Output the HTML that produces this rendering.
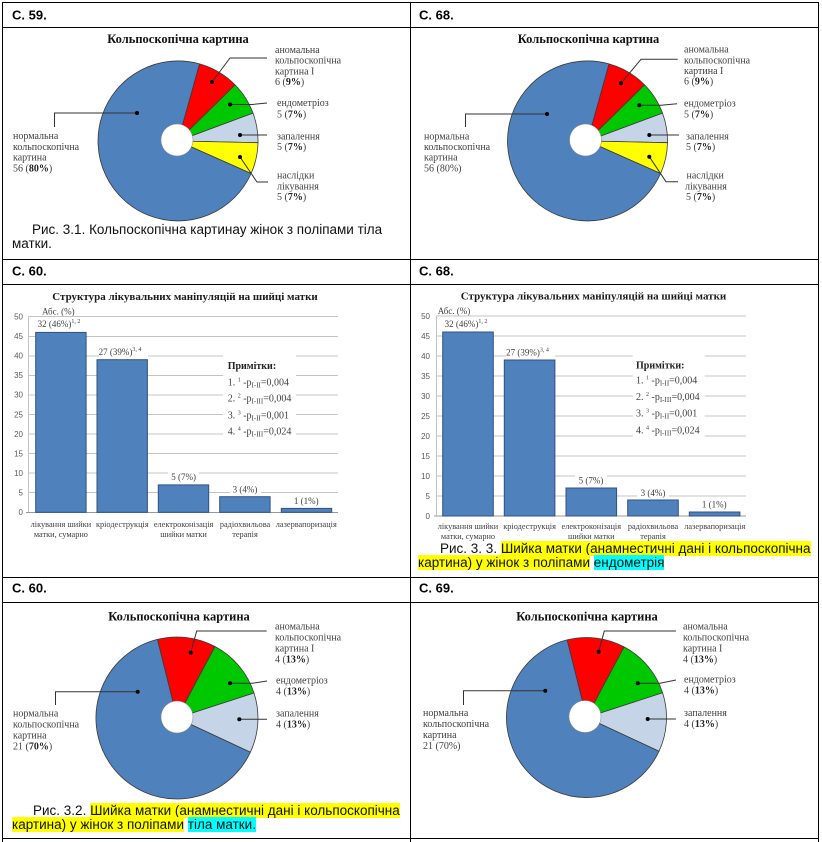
<!DOCTYPE html>
<html><head><meta charset="utf-8">
<style>
html,body{margin:0;padding:0;background:#fff;}
body{width:822px;height:842px;position:relative;overflow:hidden;}
svg{position:absolute;left:0;top:0;}
.cap{position:absolute;font-family:"Liberation Sans",Arial,sans-serif;font-size:13.5px;line-height:14px;color:#111;white-space:nowrap;}
.y{background:#ffff00;}
.c{background:#00ffff;}
.hd{font-family:"Liberation Sans",Arial,sans-serif;font-weight:bold;font-size:13px;fill:#000;}
.t{font-family:"Liberation Serif","Times New Roman",serif;}
.pl{font-family:"Liberation Serif","Times New Roman",serif;font-size:10px;fill:#404040;}
.bl{font-family:"Liberation Serif","Times New Roman",serif;font-size:9px;fill:#404040;}
.cl{font-family:"Liberation Serif","Times New Roman",serif;font-size:8.3px;fill:#404040;}
.tk{font-family:"Liberation Sans",Arial,sans-serif;font-size:8px;fill:#595959;}
</style></head><body>
<svg width="822" height="842" viewBox="0 0 822 842" xmlns="http://www.w3.org/2000/svg">
<!-- table grid -->
<g fill="#000" shape-rendering="crispEdges">
<rect x="2" y="2" width="817" height="1"/>
<rect x="2" y="27" width="817" height="1"/>
<rect x="2" y="259" width="817" height="1"/>
<rect x="2" y="284" width="817" height="1"/>
<rect x="2" y="577" width="817" height="1"/>
<rect x="2" y="602" width="817" height="1"/>
<rect x="2" y="838" width="817" height="1"/>
<rect x="2" y="2" width="1" height="840"/>
<rect x="410" y="2" width="1" height="840"/>
<rect x="818" y="2" width="1" height="840"/>
</g>
<!-- headers -->
<text class="hd" x="12" y="19.5">С. 59.</text>
<text class="hd" x="419" y="19.5">С. 68.</text>
<text class="hd" x="12" y="275.5">С. 60.</text>
<text class="hd" x="419" y="275.5">С. 68.</text>
<text class="hd" x="12" y="592.5">С. 60.</text>
<text class="hd" x="419" y="592.5">С. 69.</text>

<!-- ===== Cell 1 pie ===== -->
<text class="t" x="178" y="43" text-anchor="middle" font-size="12.5" font-weight="bold" fill="#111">Кольпоскопічна картина</text>
<g transform="translate(178,141)" stroke="#3a3a3a" stroke-width="0.8" stroke-linejoin="round">
<path d="M0,0 L21.5,-77.1 A80,80 0 0 1 57.1,-56.1 Z" fill="#FF0000"/>
<path d="M0,0 L57.1,-56.1 A80,80 0 0 1 75,-27.9 Z" fill="#00C800"/>
<path d="M0,0 L75,-27.9 A80,80 0 0 1 80,1.7 Z" fill="#C6D4E8"/>
<path d="M0,0 L80,1.7 A80,80 0 0 1 73.1,32.5 Z" fill="#FFFF00"/>
<path d="M0,0 L73.1,32.5 A80,80 0 1 1 21.5,-77.1 Z" fill="#4F81BD"/>
<circle cx="-1" cy="-1" r="16" fill="#fff" stroke="#888" stroke-width="0.5"/>
</g>
<g fill="none" stroke="#333" stroke-width="1">
<polyline points="212,82 230,58 267,58"/>
<polyline points="230,104.5 252,104.5 267,103"/>
<polyline points="240,135 267,135"/>
<polyline points="240,157 257,182 268,182"/>
<polyline points="137,113 54.5,113 54.5,127"/>
</g>
<g fill="#000"><circle cx="212" cy="82" r="2"/><circle cx="230" cy="104.5" r="2"/><circle cx="240" cy="135" r="2"/><circle cx="240" cy="157" r="2"/><circle cx="137" cy="113" r="2"/></g>
<text class="pl" x="275" y="53">аномальна</text>
<text class="pl" x="275" y="63.7">кольпоскопічна</text>
<text class="pl" x="275" y="74.3">картина І</text>
<text class="pl" x="275" y="85">6 (<tspan font-weight="bold" fill="#222">9%</tspan>)</text>
<text class="pl" x="277" y="106">ендометріоз</text>
<text class="pl" x="277" y="117.3">5 (<tspan font-weight="bold" fill="#222">7%</tspan>)</text>
<text class="pl" x="277" y="139.3">запалення</text>
<text class="pl" x="277" y="150">5 (<tspan font-weight="bold" fill="#222">7%</tspan>)</text>
<text class="pl" x="277" y="178.3">наслідки</text>
<text class="pl" x="277" y="189.3">лікування</text>
<text class="pl" x="277" y="200">5 (<tspan font-weight="bold" fill="#222">7%</tspan>)</text>
<text class="pl" x="13" y="139">нормальна</text>
<text class="pl" x="13" y="150">кольпоскопічна</text>
<text class="pl" x="13" y="160.7">картина</text>
<text class="pl" x="13" y="171.7">56 (<tspan font-weight="bold" fill="#222">80%</tspan>)</text>

<!-- ===== Cell 2 pie ===== -->
<text class="t" x="588.5" y="43" text-anchor="middle" font-size="12.5" font-weight="bold" fill="#111">Кольпоскопічна картина</text>
<g transform="translate(587.5,141)" stroke="#3a3a3a" stroke-width="0.8" stroke-linejoin="round">
<path d="M0,0 L21.5,-77.1 A80,80 0 0 1 57.1,-56.1 Z" fill="#FF0000"/>
<path d="M0,0 L57.1,-56.1 A80,80 0 0 1 75,-27.9 Z" fill="#00C800"/>
<path d="M0,0 L75,-27.9 A80,80 0 0 1 80,1.7 Z" fill="#C6D4E8"/>
<path d="M0,0 L80,1.7 A80,80 0 0 1 73.1,32.5 Z" fill="#FFFF00"/>
<path d="M0,0 L73.1,32.5 A80,80 0 1 1 21.5,-77.1 Z" fill="#4F81BD"/>
<circle cx="-2" cy="-1" r="16" fill="#fff" stroke="#888" stroke-width="0.5"/>
</g>
<g fill="none" stroke="#333" stroke-width="1">
<polyline points="621,83.3 641,59.3 677.7,59.3"/>
<polyline points="639.3,105.3 661,105.3 677,103.7"/>
<polyline points="649.3,135 679,135"/>
<polyline points="649.3,156.7 666,181.7 678,181.7"/>
<polyline points="547,114 465.5,114 465.5,127"/>
</g>
<g fill="#000"><circle cx="621" cy="83.3" r="2"/><circle cx="639.3" cy="105.3" r="2"/><circle cx="649.3" cy="135" r="2"/><circle cx="649.3" cy="156.7" r="2"/><circle cx="547" cy="114" r="2"/></g>
<text class="pl" x="684" y="52.7">аномальна</text>
<text class="pl" x="684" y="63.3">кольпоскопічна</text>
<text class="pl" x="684" y="74">картина І</text>
<text class="pl" x="684" y="84.5">6 (<tspan font-weight="bold" fill="#222">9%</tspan>)</text>
<text class="pl" x="684" y="106.7">ендометріоз</text>
<text class="pl" x="684" y="117.3">5 (<tspan font-weight="bold" fill="#222">7%</tspan>)</text>
<text class="pl" x="686" y="139.3">запалення</text>
<text class="pl" x="686" y="150">5 (<tspan font-weight="bold" fill="#222">7%</tspan>)</text>
<text class="pl" x="686.5" y="178.3">наслідки</text>
<text class="pl" x="685" y="189.3">лікування</text>
<text class="pl" x="686" y="200">5 (<tspan font-weight="bold" fill="#222">7%</tspan>)</text>
<text class="pl" x="424" y="139.3">нормальна</text>
<text class="pl" x="424" y="150">кольпоскопічна</text>
<text class="pl" x="424" y="160.7">картина</text>
<text class="pl" x="424" y="171.7">56 (80%)</text>

<!-- ===== Cell 3 bar chart ===== -->
<text class="t" x="185" y="300" text-anchor="middle" font-size="11" font-weight="bold" fill="#1a1a1a">Структура лікувальних маніпуляцій на шийці матки</text>
<text class="bl" x="42" y="314.5">Абс. (%)</text>
<g stroke="#c4c4c4" stroke-width="1" shape-rendering="crispEdges">
<line x1="28" x2="338" y1="316.7" y2="316.7"/>
<line x1="28" x2="338" y1="336.3" y2="336.3"/>
<line x1="28" x2="338" y1="355.8" y2="355.8"/>
<line x1="28" x2="338" y1="375.4" y2="375.4"/>
<line x1="28" x2="338" y1="394.9" y2="394.9"/>
<line x1="28" x2="338" y1="414.5" y2="414.5"/>
<line x1="28" x2="338" y1="434.1" y2="434.1"/>
<line x1="28" x2="338" y1="453.6" y2="453.6"/>
<line x1="28" x2="338" y1="473.2" y2="473.2"/>
<line x1="28" x2="338" y1="492.7" y2="492.7"/>
<line x1="28.5" x2="28.5" y1="316.7" y2="512.3"/>
</g>
<line x1="26" x2="338" y1="512.3" y2="512.3" stroke="#999" stroke-width="1" shape-rendering="crispEdges"/>
<g class="tk" text-anchor="end">
<text x="23" y="319.5">50</text><text x="23" y="339">45</text><text x="23" y="358.6">40</text><text x="23" y="378.2">35</text><text x="23" y="397.7">30</text><text x="23" y="417.3">25</text><text x="23" y="436.9">20</text><text x="23" y="456.4">15</text><text x="23" y="476">10</text><text x="23" y="495.5">5</text><text x="23" y="515">0</text>
</g>
<g fill="#4F81BD" stroke="#2f5282" stroke-width="1">
<rect x="35.7" y="332.4" width="50.4" height="179.9"/>
<rect x="97" y="359.7" width="50.4" height="152.6"/>
<rect x="158.3" y="484.9" width="50.4" height="27.4"/>
<rect x="219.7" y="496.7" width="50.4" height="15.6"/>
<rect x="281.3" y="508.4" width="50.4" height="3.9"/>
</g>
<g fill="#fff">
<rect x="38" y="319" width="48" height="10"/>
<rect x="99" y="346.5" width="49" height="10.5"/>
<rect x="168" y="471" width="31" height="10"/>
<rect x="230" y="484" width="31" height="10"/>
<rect x="291" y="496" width="31" height="10"/>
<rect x="223" y="355" width="73" height="82"/>
</g>
<text class="bl" x="59" y="327" text-anchor="middle">32 (46%)<tspan font-size="6" dy="-4">1, 2</tspan></text>
<text class="bl" x="120" y="355" text-anchor="middle">27 (39%)<tspan font-size="6" dy="-4">3, 4</tspan></text>
<text class="bl" x="183.6" y="480" text-anchor="middle">5 (7%)</text>
<text class="bl" x="245" y="492.3" text-anchor="middle">3 (4%)</text>
<text class="bl" x="306.3" y="504" text-anchor="middle">1 (1%)</text>
<text class="t" x="227.7" y="369" font-size="10" font-weight="bold" fill="#222">Примітки:</text>
<text class="pl" x="227.7" y="385.7">1. <tspan font-size="6" dy="-4">1</tspan><tspan dy="4"> -p</tspan><tspan font-size="7" dy="2">I-II</tspan><tspan dy="-2">=0,004</tspan></text>
<text class="pl" x="227.7" y="401.7">2. <tspan font-size="6" dy="-4">2</tspan><tspan dy="4"> -p</tspan><tspan font-size="7" dy="2">I-III</tspan><tspan dy="-2">=0,004</tspan></text>
<text class="pl" x="227.7" y="418.3">3. <tspan font-size="6" dy="-4">3</tspan><tspan dy="4"> -p</tspan><tspan font-size="7" dy="2">I-II</tspan><tspan dy="-2">=0,001</tspan></text>
<text class="pl" x="227.7" y="434.3">4. <tspan font-size="6" dy="-4">4</tspan><tspan dy="4"> -p</tspan><tspan font-size="7" dy="2">I-III</tspan><tspan dy="-2">=0,024</tspan></text>
<g class="cl" text-anchor="middle">
<text x="60.9" y="527">лікування шийки</text><text x="60.9" y="537">матки, сумарно</text>
<text x="122.3" y="527">кріодеструкція</text>
<text x="183.6" y="527">електроконізація</text><text x="183.6" y="537">шийки матки</text>
<text x="245" y="527">радіохвильова</text><text x="245" y="537">терапія</text>
<text x="306.3" y="527">лазервапоризація</text>
</g>

<!-- ===== Cell 4 bar chart ===== -->
<text class="t" x="593.5" y="299.5" text-anchor="middle" font-size="11" font-weight="bold" fill="#1a1a1a">Структура лікувальних маніпуляцій на шийці матки</text>
<text class="bl" x="437.7" y="314">Абс. (%)</text>
<g stroke="#c4c4c4" stroke-width="1" shape-rendering="crispEdges">
<line x1="436" x2="746" y1="316" y2="316"/>
<line x1="436" x2="746" y1="336" y2="336"/>
<line x1="436" x2="746" y1="356" y2="356"/>
<line x1="436" x2="746" y1="376" y2="376"/>
<line x1="436" x2="746" y1="396" y2="396"/>
<line x1="436" x2="746" y1="416" y2="416"/>
<line x1="436" x2="746" y1="436" y2="436"/>
<line x1="436" x2="746" y1="456" y2="456"/>
<line x1="436" x2="746" y1="476" y2="476"/>
<line x1="436" x2="746" y1="496" y2="496"/>
<line x1="436.5" x2="436.5" y1="316" y2="516"/>
</g>
<line x1="434" x2="746" y1="516" y2="516" stroke="#999" stroke-width="1" shape-rendering="crispEdges"/>
<g class="tk" text-anchor="end">
<text x="430" y="319">50</text><text x="430" y="339">45</text><text x="430" y="359">40</text><text x="430" y="379">35</text><text x="430" y="399">30</text><text x="430" y="419">25</text><text x="430" y="439">20</text><text x="430" y="459">15</text><text x="430" y="479">10</text><text x="430" y="499">5</text><text x="430" y="519">0</text>
</g>
<g fill="#4F81BD" stroke="#2f5282" stroke-width="1">
<rect x="442.7" y="332" width="50.6" height="184"/>
<rect x="504.3" y="360" width="50.6" height="156"/>
<rect x="566" y="488" width="50.6" height="28"/>
<rect x="627.7" y="500" width="50.6" height="16"/>
<rect x="689.3" y="512" width="50.6" height="4"/>
</g>
<g fill="#fff">
<rect x="445" y="319" width="48" height="10"/>
<rect x="506" y="347" width="49" height="10.5"/>
<rect x="575" y="475" width="32" height="10"/>
<rect x="637" y="487.5" width="32" height="10"/>
<rect x="698" y="499" width="33" height="10"/>
<rect x="632.7" y="355" width="72" height="82"/>
</g>
<text class="bl" x="466" y="327" text-anchor="middle">32 (46%)<tspan font-size="6" dy="-4">1, 2</tspan></text>
<text class="bl" x="527.5" y="355.5" text-anchor="middle">27 (39%)<tspan font-size="6" dy="-4">3, 4</tspan></text>
<text class="bl" x="591" y="483.5" text-anchor="middle">5 (7%)</text>
<text class="bl" x="653" y="496" text-anchor="middle">3 (4%)</text>
<text class="bl" x="714.3" y="507.5" text-anchor="middle">1 (1%)</text>
<text class="t" x="636" y="368.3" font-size="10" font-weight="bold" fill="#222">Примітки:</text>
<text class="pl" x="636" y="383.3">1. <tspan font-size="6" dy="-4">1</tspan><tspan dy="4"> -p</tspan><tspan font-size="7" dy="2">I-II</tspan><tspan dy="-2">=0,004</tspan></text>
<text class="pl" x="636" y="400">2. <tspan font-size="6" dy="-4">2</tspan><tspan dy="4"> -p</tspan><tspan font-size="7" dy="2">I-III</tspan><tspan dy="-2">=0,004</tspan></text>
<text class="pl" x="636" y="416.7">3. <tspan font-size="6" dy="-4">3</tspan><tspan dy="4"> -p</tspan><tspan font-size="7" dy="2">I-II</tspan><tspan dy="-2">=0,001</tspan></text>
<text class="pl" x="636" y="433.3">4. <tspan font-size="6" dy="-4">4</tspan><tspan dy="4"> -p</tspan><tspan font-size="7" dy="2">I-III</tspan><tspan dy="-2">=0,024</tspan></text>
<g class="cl" text-anchor="middle">
<text x="468" y="529">лікування шийки</text><text x="468" y="539">матки, сумарно</text>
<text x="529.6" y="529">кріодеструкція</text>
<text x="591.3" y="529">електроконізація</text><text x="591.3" y="539">шийки матки</text>
<text x="653" y="529">радіохвильова</text><text x="653" y="539">терапія</text>
<text x="714.8" y="529">лазервапоризація</text>
</g>

<!-- ===== Cell 5 pie ===== -->
<text class="t" x="179" y="620.7" text-anchor="middle" font-size="12.5" font-weight="bold" fill="#111">Кольпоскопічна картина</text>
<g transform="translate(177,718)" stroke="#3a3a3a" stroke-width="0.8" stroke-linejoin="round">
<path d="M0,0 L-19.6,-78.6 A81,81 0 0 1 38,-71.5 Z" fill="#FF0000"/>
<path d="M0,0 L38,-71.5 A81,81 0 0 1 77,-25 Z" fill="#00C800"/>
<path d="M0,0 L77,-25 A81,81 0 0 1 73.4,34.2 Z" fill="#C6D4E8"/>
<path d="M0,0 L73.4,34.2 A81,81 0 1 1 -19.6,-78.6 Z" fill="#4F81BD"/>
<circle cx="0" cy="-1" r="16" fill="#fff" stroke="#888" stroke-width="0.5"/>
</g>
<g fill="none" stroke="#333" stroke-width="1">
<polyline points="190.7,652.7 196.7,631 266.7,631"/>
<polyline points="230,683.3 252,683.3 267,681"/>
<polyline points="239.3,719.3 267,719.3"/>
<polyline points="137.7,691.7 55.5,691.7 55.5,705"/>
</g>
<g fill="#000"><circle cx="190.7" cy="652.7" r="2"/><circle cx="230" cy="683.3" r="2"/><circle cx="239.3" cy="719.3" r="2"/><circle cx="137.7" cy="691.7" r="2"/></g>
<text class="pl" x="275" y="629.3">аномальна</text>
<text class="pl" x="275" y="640.7">кольпоскопічна</text>
<text class="pl" x="275" y="651.3">картина І</text>
<text class="pl" x="275" y="662.3">4 (<tspan font-weight="bold" fill="#222">13%</tspan>)</text>
<text class="pl" x="276" y="683.3">ендометріоз</text>
<text class="pl" x="276" y="694.3">4 (<tspan font-weight="bold" fill="#222">13%</tspan>)</text>
<text class="pl" x="276" y="716.7">запалення</text>
<text class="pl" x="276" y="727.7">4 (<tspan font-weight="bold" fill="#222">13%</tspan>)</text>
<text class="pl" x="13" y="716.7">нормальна</text>
<text class="pl" x="13" y="727.7">кольпоскопічна</text>
<text class="pl" x="13" y="738.7">картина</text>
<text class="pl" x="13" y="749.3">21 (<tspan font-weight="bold" fill="#222">70%</tspan>)</text>

<!-- ===== Cell 6 pie ===== -->
<text class="t" x="587" y="620.7" text-anchor="middle" font-size="12.5" font-weight="bold" fill="#111">Кольпоскопічна картина</text>
<g transform="translate(586.5,717.5)" stroke="#3a3a3a" stroke-width="0.8" stroke-linejoin="round">
<path d="M0,0 L-19.4,-77.6 A80,80 0 0 1 37.6,-70.6 Z" fill="#FF0000"/>
<path d="M0,0 L37.6,-70.6 A80,80 0 0 1 76.1,-24.7 Z" fill="#00C800"/>
<path d="M0,0 L76.1,-24.7 A80,80 0 0 1 72.5,33.8 Z" fill="#C6D4E8"/>
<path d="M0,0 L72.5,33.8 A80,80 0 1 1 -19.4,-77.6 Z" fill="#4F81BD"/>
<circle cx="-1.5" cy="-1" r="16" fill="#fff" stroke="#888" stroke-width="0.5"/>
</g>
<g fill="none" stroke="#333" stroke-width="1">
<polyline points="598.7,651.7 604.3,631 676,631"/>
<polyline points="637.7,683.3 660,683.3 676,680"/>
<polyline points="647.7,719 676,719"/>
<polyline points="545.3,690.7 463.5,690.7 463.5,705"/>
</g>
<g fill="#000"><circle cx="598.7" cy="651.7" r="2"/><circle cx="637.7" cy="683.3" r="2"/><circle cx="647.7" cy="719" r="2"/><circle cx="545.3" cy="690.7" r="2"/></g>
<text class="pl" x="683" y="629.3">аномальна</text>
<text class="pl" x="683" y="640.7">кольпоскопічна</text>
<text class="pl" x="683" y="651.3">картина І</text>
<text class="pl" x="683" y="662.3">4 (<tspan font-weight="bold" fill="#222">13%</tspan>)</text>
<text class="pl" x="684" y="682.7">ендометріоз</text>
<text class="pl" x="684" y="693.3">4 (<tspan font-weight="bold" fill="#222">13%</tspan>)</text>
<text class="pl" x="684" y="716">запалення</text>
<text class="pl" x="684" y="727">4 (<tspan font-weight="bold" fill="#222">13%</tspan>)</text>
<text class="pl" x="423" y="716">нормальна</text>
<text class="pl" x="423" y="727">кольпоскопічна</text>
<text class="pl" x="423" y="738">картина</text>
<text class="pl" x="423" y="749">21 (70%)</text>
</svg>

<!-- captions -->
<div class="cap" style="left:32px;top:222.5px;">Рис. 3.1. Кольпоскопічна картинау жінок з поліпами тіла</div>
<div class="cap" style="left:12px;top:236.5px;">матки.</div>

<div class="cap" style="left:440px;top:542px;">Рис. 3. 3. <span class="y">Шийка матки (анамнестичні дані і кольпоскопічна</span></div>
<div class="cap" style="left:418px;top:556px;"><span class="y">картина) у жінок з поліпами</span> <span class="c">ендометрія</span></div>

<div class="cap" style="left:33px;top:803.5px;">Рис. 3.2. <span class="y">Шийка матки (анамнестичні дані і кольпоскопічна</span></div>
<div class="cap" style="left:12px;top:817.5px;"><span class="y">картина) у жінок з поліпами</span> <span class="c">тіла матки.</span></div>
</body></html>
